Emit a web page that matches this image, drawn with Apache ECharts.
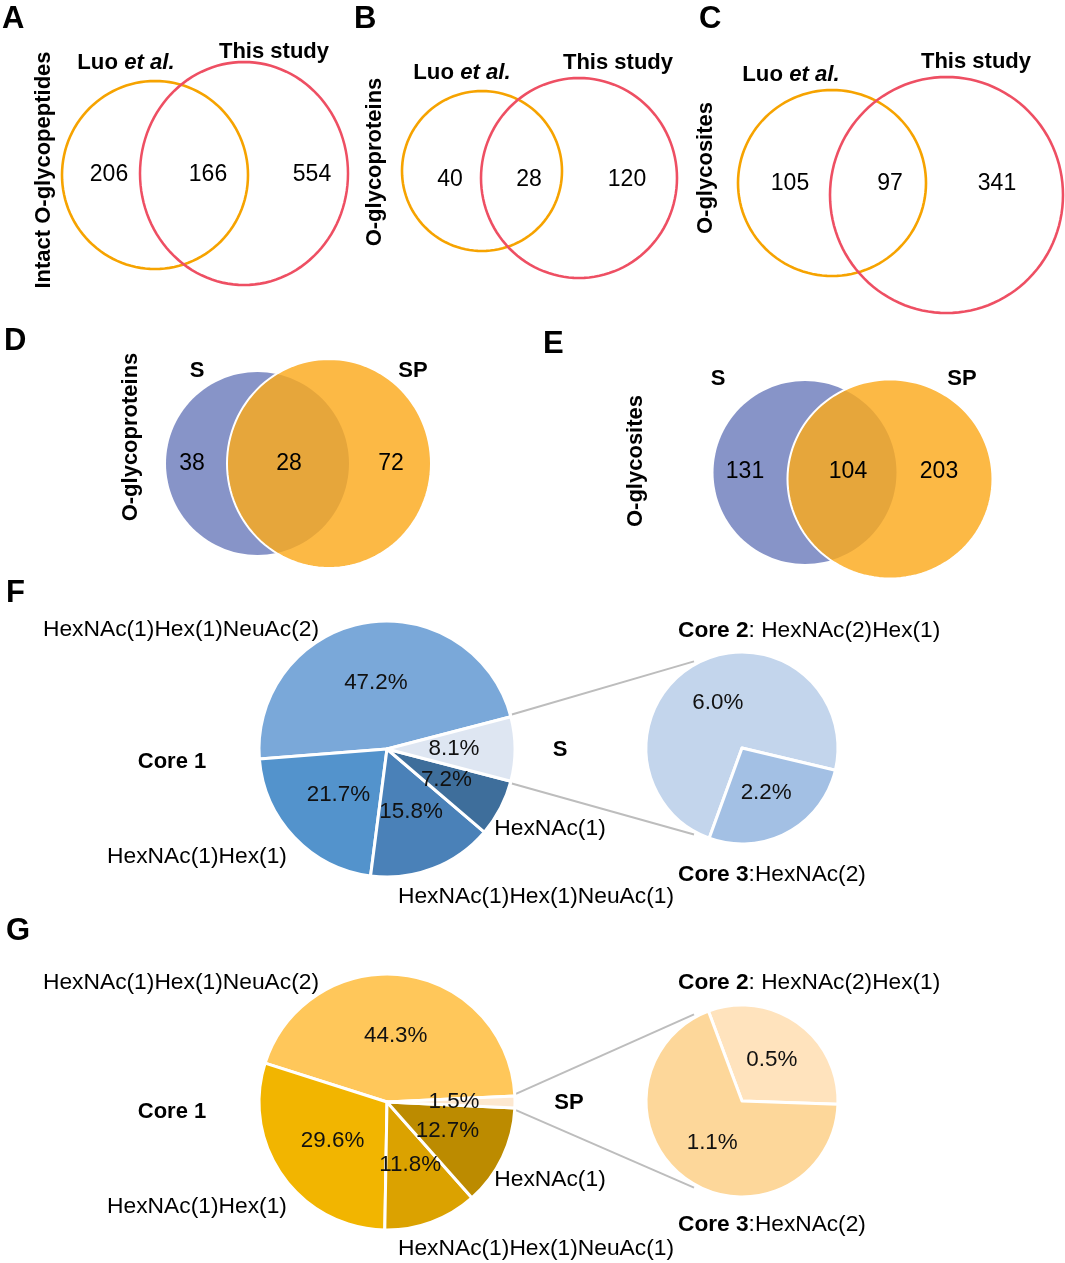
<!DOCTYPE html>
<html><head><meta charset="utf-8">
<script src="https://cdn.jsdelivr.net/npm/echarts@6/dist/echarts.min.js"></script>
<style>html,body{margin:0;padding:0;background:#fff}#chart{width:1065px;height:1263px}</style>
</head><body><div id="chart"></div>
<script>
// ---------------- data ----------------
const vennSetNames = ['Luo ', 'This study'];
const vennA = [206, 166, 554];          // Luo only, shared, this study only
const vennB = [40, 28, 120];
const vennC = [105, 97, 341];
const vennGroupNames = ['S', 'SP'];
const vennD = [38, 28, 72];             // S only, shared, SP only
const vennE = [131, 104, 203];
const vennTitles = ['Intact O-glycopeptides', 'O-glycoproteins', 'O-glycosites', 'O-glycoproteins', 'O-glycosites'];
const panelLetters = ['A', 'B', 'C', 'D', 'E', 'F', 'G'];

const glycanNames = ['HexNAc(1)Hex(1)NeuAc(2)', 'HexNAc(1)Hex(1)', 'HexNAc(1)Hex(1)NeuAc(1)', 'HexNAc(1)', 'Core 2 + Core 3'];
const pieFValues = [47.2, 21.7, 15.8, 7.2, 8.1];
const pieGValues = [44.3, 29.6, 11.8, 12.7, 1.5];
const coreNames = ['Core 2', 'Core 3'];
const coreGlycans = ['HexNAc(2)Hex(1)', 'HexNAc(2)'];
const subFValues = [6.0, 2.2];
const subGValues = [0.5, 1.1];
const pieGroupNames = ['S', 'SP'];

// ---------------- styling / layout ----------------
const FONT = 'Arial, "Liberation Sans", Helvetica, sans-serif';
const ORANGE_LINE = '#F6A300', RED_LINE = '#EE4F63';
const S_BLUE = '#8794C8', SP_ORANGE = 'rgba(251,170,28,0.82)';
const colorsF = ['#7AA8D9', '#5393CC', '#4A81B8', '#3E6E9B', '#DEE6F2'];
const colorsFSub = ['#C3D5EC', '#A3C0E4'];
const colorsG = ['#FFC75A', '#F2B500', '#DBA200', '#BC8B00', '#FDE8D0'];
const colorsGSub = ['#FFE3BD', '#FDD79A'];

const vennLayout = [
  {circles: [[155, 175, 186, 188], [244, 173.5, 208, 223]], nums: [[109, 175], [208, 175], [312, 175]], names: [[126, 63], [274, 52]], title: [44, 170]},
  {circles: [[482, 171, 160, 160], [579, 178, 196, 200]], nums: [[450, 180], [529, 180], [627, 180]], names: [[462, 73], [618, 63]], title: [375, 162]},
  {circles: [[832, 183, 188, 186], [946.5, 195, 233, 236]], nums: [[790, 184], [890, 184], [997, 184]], names: [[791, 75], [976, 62]], title: [706, 168]},
  {circles: [[257.5, 463.5, 183, 183], [329, 463.5, 204, 209]], nums: [[192, 464], [289, 464], [391, 464]], names: [[197, 371], [413, 371]], title: [131, 437]},
  {circles: [[805, 472.5, 183, 183], [890, 479, 205, 199]], nums: [[745, 472], [848, 472], [939, 472]], names: [[718, 379], [962, 379]], title: [636, 461]}
];
const letterPos = [[2, 19], [354, 19], [699, 19], [4, 341], [543, 344], [6, 593], [6, 931]];

const pieLayout = {
  F: {main: [387, 749, 128], sub: [742, 748, 96], group: [560, 750],
      names: [[181, 630], [197, 857], [536, 897], [550, 829]], core1: [172, 762], core2: [678, 631], core3: [678, 875]},
  G: {main: [387, 1102, 128], sub: [742, 1101, 96], group: [569, 1103],
      names: [[181, 983], [197, 1207], [536, 1249], [550, 1180]], core1: [172, 1112], core2: [678, 983], core3: [678, 1225]}
};

// ellipse symbol (polygon path so width/height can differ)
function ellipsePath() {
  const n = 120; let s = 'path://';
  for (let i = 0; i <= n; i++) {
    const a = i / n * Math.PI * 2;
    s += (i === 0 ? 'M' : 'L') + (100 + 100 * Math.cos(a)).toFixed(2) + ',' + (100 + 100 * Math.sin(a)).toFixed(2);
  }
  return s + 'Z';
}
const ELL = ellipsePath();

const vennData = [vennA, vennB, vennC, vennD, vennE];

const outlineData = [], fillData = [], countData = [];
vennLayout.forEach((L, p) => {
  L.circles.forEach((c, k) => {
    if (p < 3) {
      outlineData.push({value: [c[0], c[1]], symbol: ELL, symbolSize: [c[2], c[3]],
        itemStyle: {color: 'rgba(0,0,0,0)', borderColor: k === 0 ? ORANGE_LINE : RED_LINE, borderWidth: 2.6, opacity: 1}});
    } else {
      fillData.push({value: [c[0], c[1]], symbol: ELL, symbolSize: [c[2], c[3]],
        itemStyle: k === 0 ? {color: S_BLUE, opacity: 1} : {color: SP_ORANGE, borderColor: '#fff', borderWidth: 2, opacity: 1}});
    }
  });
  vennData[p].forEach((v, k) => {
    countData.push({value: [L.nums[k][0], L.nums[k][1], v]});
  });
});

const graphics = [];
function txt(x, y, text, opt) {
  opt = opt || {};
  graphics.push({type: 'text', x: x, y: y, rotation: opt.rotation || 0, silent: true, z: 100,
    style: Object.assign({text: text, fontFamily: FONT, fontSize: opt.fontSize || 22, fontWeight: opt.bold ? 'bold' : 'normal',
      fill: '#000', align: opt.align || 'center', verticalAlign: 'middle'}, opt.rich ? {rich: opt.rich} : {})});
}
panelLetters.forEach((l, i) => txt(letterPos[i][0], letterPos[i][1], l, {fontSize: 31, bold: true, align: 'left'}));
const richSet = {
  b: {fontFamily: FONT, fontSize: 22.2, fontWeight: 'bold'},
  i: {fontFamily: FONT, fontSize: 22.2, fontWeight: 'bold', fontStyle: 'italic'},
  n: {fontFamily: FONT, fontSize: 22.2, fontWeight: 'normal'}
};
const richCore = {
  b: {fontFamily: FONT, fontSize: 22.7, fontWeight: 'bold'},
  n: {fontFamily: FONT, fontSize: 22.7, fontWeight: 'normal'}
};
vennLayout.forEach((L, p) => {
  if (p < 3) {
    txt(L.names[0][0], L.names[0][1], '{b|' + vennSetNames[0] + '}{i|et al.}', {rich: richSet});
    txt(L.names[1][0], L.names[1][1], vennSetNames[1], {bold: true});
  } else {
    txt(L.names[0][0], L.names[0][1], vennGroupNames[0], {bold: true});
    txt(L.names[1][0], L.names[1][1], vennGroupNames[1], {bold: true});
  }
  txt(L.title[0], L.title[1], vennTitles[p], {bold: true, rotation: Math.PI / 2});
});

['F', 'G'].forEach((key, gi) => {
  const L = pieLayout[key];
  for (let i = 0; i < 4; i++) txt(L.names[i][0], L.names[i][1], glycanNames[i], {fontSize: 22.8});
  txt(L.core1[0], L.core1[1], 'Core 1', {bold: true});
  txt(L.group[0], L.group[1], pieGroupNames[gi], {bold: true});
  txt(L.core2[0], L.core2[1], '{b|' + coreNames[0] + '}{n|: ' + coreGlycans[0] + '}', {rich: richCore, align: 'left'});
  txt(L.core3[0], L.core3[1], '{b|' + coreNames[1] + '}{n|:' + coreGlycans[1] + '}', {rich: richCore, align: 'left'});
  const vals = key === 'F' ? pieFValues : pieGValues;
  const tot = vals.reduce((a, b) => a + b, 0);
  const half = vals[vals.length - 1] / tot * Math.PI;
  const [mx, my, mr] = L.main, [sx, sy, sr] = L.sub;
  [1, -1].forEach(sg => {
    const a = sg * half;
    const b = (180 - sg * 61) * Math.PI / 180;
    graphics.push({type: 'line', silent: true, z: 1,
      shape: {x1: mx + (mr + 1) * Math.cos(a), y1: my - (mr + 1) * Math.sin(a) - sg * 2,
              x2: sx + (sr + 3) * Math.cos(b), y2: sy - (sr + 3) * Math.sin(b)},
      style: {stroke: '#BDBDBD', lineWidth: 2}});
  });
});

function pieSeries(center, values, colors, names) {
  const tot = values.reduce((a, b) => a + b, 0);
  return {
    type: 'pie', silent: true, animation: false, center: [center[0], center[1]], radius: center[2],
    clockwise: false, startAngle: values[values.length - 1] / tot * 180,
    avoidLabelOverlap: false,
    itemStyle: {borderColor: '#fff', borderWidth: 3},
    label: {show: true, position: 'inside', formatter: p => p.value.toFixed(1) + '%', fontFamily: FONT, fontSize: 22.4, color: '#111', rotate: 0},
    labelLine: {show: false},
    data: values.map((v, i) => ({value: v, name: names[i], itemStyle: {color: colors[i]}}))
  };
}
function subPieSeries(center, values, colors, startAngle) {
  const s = pieSeries(center, values, colors, coreNames);
  s.startAngle = startAngle;
  return s;
}

const chart = echarts.init(document.getElementById('chart'), null, {renderer: 'canvas'});
chart.setOption({
  backgroundColor: '#fff',
  animation: false,
  grid: {left: 0, right: 0, top: 0, bottom: 0},
  xAxis: {type: 'value', min: 0, max: 1065, show: false},
  yAxis: {type: 'value', min: 0, max: 1263, inverse: true, show: false},
  graphic: graphics,
  series: [
    {type: 'scatter', silent: true, data: fillData, z: 2, itemStyle: {opacity: 1}},
    {type: 'scatter', silent: true, data: outlineData, z: 2, itemStyle: {opacity: 1}},
    {type: 'scatter', silent: true, data: countData, symbolSize: 2, z: 5,
     itemStyle: {color: 'rgba(0,0,0,0)', opacity: 1},
     label: {show: true, position: 'inside', formatter: p => String(p.value[2]), fontFamily: FONT, fontSize: 23, color: '#000'}},
    pieSeries(pieLayout.F.main, pieFValues, colorsF, glycanNames),
    subPieSeries(pieLayout.F.sub, subFValues, colorsFSub, 346.6),
    pieSeries(pieLayout.G.main, pieGValues, colorsG, glycanNames),
    subPieSeries(pieLayout.G.sub, subGValues, colorsGSub, 358)
  ]
});
</script></body></html>
